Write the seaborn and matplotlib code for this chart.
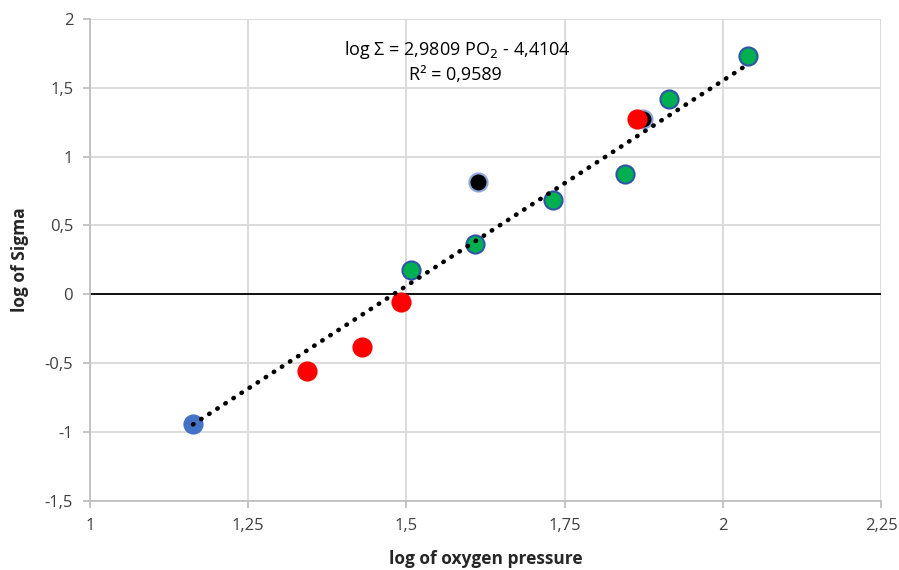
import matplotlib
matplotlib.use('Agg')
import matplotlib.pyplot as plt
import numpy as np
import pandas as pd
import seaborn as sns
from matplotlib.ticker import FuncFormatter

sns.set_theme(style='whitegrid')
plt.rcParams['font.family'] = ['Open Sans', 'DejaVu Sans']

# values
groups = ['blue', 'red', 'red', 'red', 'green', 'green', 'black', 'green',
          'green', 'black', 'red', 'green', 'green']
log_po2 = [1.163, 1.343, 1.430, 1.491, 1.507, 1.608, 1.613, 1.732,
           1.845, 1.874, 1.864, 1.915, 2.040]
log_sigma = [-0.94, -0.555, -0.381, -0.054, 0.178, 0.366, 0.816, 0.686,
             0.874, 1.27, 1.274, 1.418, 1.732]
slope, intercept = 2.9809, -4.4104
r2 = 0.9589
x_ticks = [1, 1.25, 1.5, 1.75, 2, 2.25]
y_ticks = [-1.5, -1, -0.5, 0, 0.5, 1, 1.5, 2]

data = pd.DataFrame({'group': groups, 'x': log_po2, 'y': log_sigma})

styles = {
    'blue': ('#4472C4', '#4472C4'),
    'green': ('#00B050', '#2F55A8'),
    'black': ('#000000', '#8EA9DB'),
    'red': ('#FF0000', '#FF0000'),
}

fig = plt.figure(figsize=(8.99, 5.70), dpi=100)
ax = fig.add_axes([0.100, 0.121, 0.880, 0.846])

for g in ['blue', 'green', 'black', 'red']:
    face, edge = styles[g]
    sns.scatterplot(data=data[data['group'] == g], x='x', y='y', ax=ax,
                    color=face, edgecolor=edge, linewidth=1.5, s=170, zorder=3)

fx = np.array([min(log_po2), max(log_po2)])
ax.plot(fx, slope * fx + intercept, color='black', lw=3.3,
        linestyle=(0, (0.1, 2.0)), dash_capstyle='round', zorder=4)

ax.axhline(0, color='black', lw=1.3, zorder=2)

ax.set_xlim(1, 2.25)
ax.set_ylim(-1.5, 2)
ax.set_xticks(x_ticks)
ax.set_yticks(y_ticks)
fmt = FuncFormatter(lambda v, p: ('%g' % v).replace('.', ','))
ax.xaxis.set_major_formatter(fmt)
ax.yaxis.set_major_formatter(fmt)
ax.grid(color='#D9D9D9', lw=1.3)
for side in ['top', 'right']:
    ax.spines[side].set_visible(False)
for side in ['left', 'bottom']:
    ax.spines[side].set_color('#BFBFBF')
    ax.spines[side].set_linewidth(1.3)
ax.tick_params(axis='both', length=5, width=1.3, color='#BFBFBF',
               labelsize=12, labelcolor='#404040', direction='out',
               left=True, bottom=True, pad=7)

ax.set_xlabel('log of oxygen pressure', fontsize=12.5, fontweight='bold')
ax.xaxis.set_label_coords(0.5, -0.102)
ax.set_ylabel('log of Sigma', fontsize=12.5, fontweight='bold')
ax.yaxis.set_label_coords(-0.077, 0.5)

eq = ('log Σ = %s PO$_2$ - %s' % (('%.4f' % slope).replace('.', ','),
                                  ('%.4f' % -intercept).replace('.', ',')))
ax.text(1.58, 1.77, eq, ha='center', va='center', fontsize=13, color='black')
ax.text(1.577, 1.595, 'R² = %s' % ('%.4f' % r2).replace('.', ','),
        ha='center', va='center', fontsize=13, color='black')

fig.savefig('out.png', dpi=100)
